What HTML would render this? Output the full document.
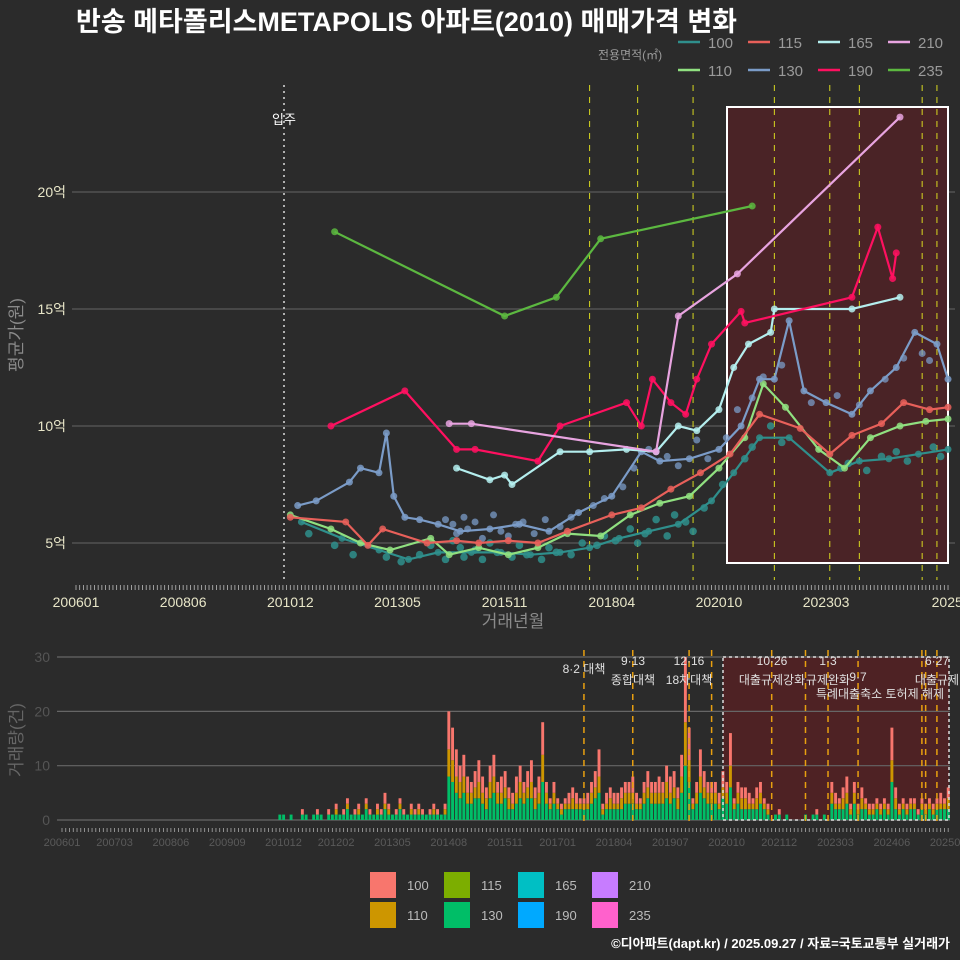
<!DOCTYPE html>
<html><head><meta charset="utf-8">
<style>
body{margin:0;background:#2b2b2b;}
svg{display:block;font-family:"Liberation Sans","Noto Sans CJK KR",sans-serif;}
</style></head>
<body>
<svg id="c" width="960" height="960" viewBox="0 0 960 960">
<rect width="960" height="960" fill="#2b2b2b"/>
<text x="76" y="31" font-size="27" font-weight="bold" fill="#ffffff">반송 메타폴리스METAPOLIS 아파트(2010) 매매가격 변화</text>
<text x="598" y="59" font-size="12" fill="#9a9a9a">전용면적(㎡)</text>
<g id="topLegend"></g>
<g id="main"></g>
<g id="vol"></g>
<g id="botLegend"></g>
<text x="950" y="948" font-size="13" font-weight="bold" fill="#ffffff" text-anchor="end">©디아파트(dapt.kr) / 2025.09.27 / 자료=국토교통부 실거래가</text>
</svg>
<script>
// ---- data (months since 2006-01, values in 억) ----
const sizes = ["100","110","115","130","165","190","210","235"];
const lineColors = {"100":"#2f8f8c","110":"#90e080","115":"#e8605a","130":"#7b9cc8","165":"#b4eeee","190":"#ff1060","210":"#e8a4e0","235":"#5cb840"};
const m100 = [61,72,82,90,98,107,115,123,131,139,147,155,163,172,178,185,193,204,212,220,228,236];
const p100 = [5.9,5.2,4.7,4.3,4.6,4.6,4.6,4.5,4.6,4.8,5.2,5.5,5.8,6.8,8.0,9.5,9.5,8.0,8.5,8.6,8.8,9.0];
const m110 = [58,69,77,85,96,101,109,117,125,133,142,150,158,166,174,181,186,192,201,208,215,223,230,236];
const p110 = [6.2,5.6,5.0,4.7,5.2,4.5,4.8,4.5,4.8,5.4,5.3,6.2,6.7,7.0,8.2,9.5,11.8,10.8,9.0,8.2,9.5,10.0,10.2,10.3];
const m115 = [58,73,79,83,95,103,109,117,125,133,145,153,161,169,177,185,196,204,210,218,224,231,236];
const p115 = [6.1,5.9,4.9,5.6,5.0,5.1,5.0,5.1,5.0,5.5,6.2,6.5,7.3,8.0,8.8,10.5,9.9,8.8,9.6,10.1,11.0,10.7,10.8];
const m130 = [60,65,74,77,82,84,86,89,93,98,104,112,120,128,136,145,153,158,166,174,180,185,189,193,197,203,210,215,222,227,233,236];
const p130 = [6.6,6.8,7.6,8.2,8.0,9.7,7.0,6.1,6.0,5.8,5.5,5.6,5.8,5.5,6.3,7.0,8.9,8.5,8.6,9.0,10.0,12.0,12.0,14.5,11.5,11.0,10.5,11.5,12.5,14.0,13.5,12.0];
const m165 = [103,112,116,118,131,139,149,157,163,168,174,178,182,188,189,210,223];
const p165 = [8.2,7.7,7.9,7.5,8.9,8.9,9.0,8.9,10.0,9.8,10.7,12.5,13.5,14.0,15.0,15.0,15.5];
const m190 = [69,89,103,108,125,131,149,153,156,161,165,168,172,180,181,210,217,221,222];
const p190 = [10.0,11.5,9.0,9.0,8.5,10.0,11.0,10.0,12.0,11.0,10.5,12.0,13.5,14.9,14.4,15.5,18.5,16.3,17.4];
const m210 = [101,107,157,163,179,223];
const p210 = [10.1,10.1,8.9,14.7,16.5,23.2];
const m235 = [70,116,130,142,183];
const p235 = [18.3,14.7,15.5,18.0,19.4];
// individual transactions (scatter)
const sm100 = [63,70,75,84,88,93,96,100,102,104,105,108,110,112,114,118,120,122,126,128,130,134,137,141,143,146,150,152,154,157,160,162,165,167,170,175,181,183,188,191,207,209,214,218,222,225,232,234];
const sp100 = [5.4,4.9,4.5,4.4,4.2,4.5,4.9,4.3,5.1,4.8,4.4,4.7,4.3,5.0,4.6,4.4,4.9,4.5,4.3,4.8,4.6,4.5,5.0,4.9,5.3,5.1,5.6,5.0,5.4,6.0,5.3,6.2,5.9,5.5,6.5,7.5,8.6,9.1,10.0,9.3,8.2,8.4,8.1,8.7,8.9,8.5,9.1,8.7];
const sm130 = [100,102,103,105,106,108,110,113,115,117,119,121,124,127,131,134,140,143,148,151,155,160,163,168,171,176,179,183,186,191,199,206,212,219,224,229,231];
const sp130 = [6.0,5.8,5.4,6.1,5.6,5.9,5.2,6.2,5.5,5.3,5.8,5.9,5.4,6.0,5.7,6.1,6.6,6.9,7.4,8.2,9.0,8.7,8.3,9.4,8.6,9.5,10.7,11.2,12.1,12.6,11.0,11.3,10.9,12.0,12.9,13.1,12.8];
const yTicks = [5,10,15,20];
const xTickLabels = ["200601","200806","201012","201305","201511","201804","202010","202303","202508"];
const xTickMonths = [0,29,58,87,116,145,174,203,232];
const policyMonthsTop = [139,152,167,189,204,212,229,233];
// volume (monthly counts from 2010-11, month index 58)
const volStart = 58;
const vol130 = [1,1,0,1,0,0,1,1,0,1,1,1, 0,1,1,1,1,1,2,1,1,1,1,2, 1,1,1,1,2,1,1,1,2,1,1,1, 1,1,1,1,1,1,1,1,1,
8,7,5,4,5,3,3,4,4,3,2,4,5,3,3,4,2,2,3,4,3,4,4,2,3,
7,3,2,3,2,1,2,2,2,2,2,2,2,3,4,5,1,2,2,2,2,2,3,3,3,2,2,3,4,3,3,3,3,4,
3,4,2,5,10,7,2,3,5,4,3,3,3,2,4,3,6,2,3,2,2,2,2,2,3,2,1,
0,1,1,0,1,0,0,0,0,1,0,1,1,0,1,0,
3,2,2,2,3,1,3,1,2,2,1,1,2,1,2,1,7,2,1,2,1,2,2,1,2,1,2,1,2,2,2,2];
const vol110 = [0,0,0,0,0,0,0,0,0,0,0,0, 0,0,0,1,0,0,1,0,0,1,0,1, 0,0,1,0,1,1,0,0,1,0,0,1, 0,1,0,0,0,1,0,0,1,
5,4,3,3,3,2,2,2,3,2,2,3,3,2,2,2,2,1,2,3,2,2,3,2,2,
5,2,1,2,1,1,1,1,2,1,1,1,1,2,2,3,1,1,2,1,1,2,2,2,2,1,1,2,2,2,2,2,2,3,
2,2,2,3,8,4,1,2,3,2,2,2,2,1,2,2,4,1,2,2,2,1,1,2,2,1,1,
0,0,0,0,0,0,0,0,0,0,0,0,0,0,0,0,
2,1,1,2,2,1,2,1,2,1,1,1,1,1,1,1,4,2,1,1,1,1,1,0,1,1,1,1,1,1,1,2];
const vol100 = [0,0,0,0,0,0,1,0,0,0,1,0, 0,1,0,1,0,1,1,0,1,1,0,1, 1,0,1,1,2,1,0,1,1,1,0,1, 1,1,1,0,1,1,1,0,1,
7,6,5,3,4,3,2,3,4,3,2,3,4,2,3,3,2,2,3,3,2,3,4,2,3,
6,2,1,2,1,1,1,2,2,2,1,1,2,2,3,5,1,2,2,2,2,2,2,2,3,2,1,2,3,2,2,3,2,3,
3,3,2,4,12,6,1,2,5,3,2,2,2,2,3,2,6,1,2,2,2,2,1,2,2,1,1,
0,0,1,0,0,0,0,0,0,0,0,0,1,0,0,0,
2,2,1,2,3,1,2,1,2,1,1,1,1,1,1,1,6,2,1,1,1,1,1,1,1,1,1,1,1,2,1,2];
const volTicks = [0,10,20,30];
const volXLabels = ["200601","200703","200806","200909","201012","201202","201305","201408","201511","201701","201804","201907","202010","202112","202303","202406","202509"];
const volXMonths = [0,14,29,44,59,73,88,103,118,132,147,162,177,191,206,221,236];
const policyMonthsBot = [139,152,167,173,189,198,204,212,229,230,233];
const policyText = [["8·2 대책","",584,673,0],["9·13","종합대책",633,665,684],["12·16","18차대책",689,665,684],["10·26","대출규제강화",772,665,684],["1·3","규제완화",828,665,684],["9·7","",858,681,0],["특례대출축소 토허제 해제","",880,698,0],["6·27","대출규제",937,665,684]];
const legendSizes = ["100","110","115","130","165","190","210","235"];
const barColors = {"100":"#F8766D","110":"#CD9600","115":"#7CAE00","130":"#00BE67","165":"#00BFC4","190":"#00A9FF","210":"#C77CFF","235":"#FF61CC"};

// ---- scales ----
const NS="http://www.w3.org/2000/svg";
const xT = m => 76 + 3.695*m;
const yT = v => 660 - 23.4*v;
const xB = m => 62 + 3.755*m;
const yB = v => 820 - 5.433*v;
function mk(tag, attrs, parent, txt){const e=document.createElementNS(NS,tag);for(const k in attrs)e.setAttribute(k,attrs[k]);if(txt!==undefined)e.textContent=txt;parent.appendChild(e);return e;}

const main=document.getElementById('main');
for(const v of yTicks){
  const g=mk('line',{x1:72,x2:955,y1:yT(v),y2:yT(v),stroke:'#5a5a5a','stroke-width':1.2},main);
  
  
  const t=mk('text',{x:66,y:yT(v)+5,'font-size':14,fill:'#e8e6c8','text-anchor':'end'},main,v+'억');
  
  
}
const box=mk('rect',{x:727,y:107,width:221,height:456,fill:'#4a2326',stroke:'#ffffff','stroke-width':2},main);


for(const m of policyMonthsTop){
  const l=mk('line',{x1:xT(m),x2:xT(m),y1:85,y2:580,stroke:'#d8d820','stroke-width':1,'stroke-dasharray':'6,6'},main);
  
  
}
const ap=mk('line',{x1:284,x2:284,y1:85,y2:580,stroke:'#dddddd','stroke-width':1.5,'stroke-dasharray':'2,4'},main);


const apt=mk('text',{x:284,y:124,'font-size':13,fill:'#ffffff','text-anchor':'middle'},main,'입주');


// scatter
sm130.forEach((m,i)=>{
  const c=mk('circle',{cx:xT(m),cy:yT(sp130[i]),r:3.5,fill:lineColors["130"],opacity:0.75},main);
  
  
});
sm100.forEach((m,i)=>{
  const c=mk('circle',{cx:xT(m),cy:yT(sp100[i]),r:3.8,fill:lineColors["100"],opacity:0.85},main);
  
  
});
const series={"100":[m100,p100],"110":[m110,p110],"115":[m115,p115],"130":[m130,p130],"165":[m165,p165],"190":[m190,p190],"210":[m210,p210],"235":[m235,p235]};
for(const s of sizes){
  const [ms,ps]=series[s];
  const pts=ms.map((m,i)=>xT(m).toFixed(1)+','+yT(ps[i]).toFixed(1)).join(' ');
  const pl=mk('polyline',{points:pts,fill:'none',stroke:lineColors[s],'stroke-width':2.2},main);
  
  
  ms.forEach((m,i)=>{
    const c=mk('circle',{cx:xT(m),cy:yT(ps[i]),r:3.5,fill:lineColors[s],opacity:0.85},main);
    
    
  });
}
for(let m=0;m<=236;m++){
  const tk=mk('line',{x1:xT(m),x2:xT(m),y1:585,y2:590,stroke:'#bbbbbb','stroke-width':0.8},main);
  
  
}
xTickLabels.forEach((lb,i)=>{
  const x = i===xTickLabels.length-1 ? 955 : xT(xTickMonths[i]);
  const t=mk('text',{x:x,y:607,'font-size':14,fill:'#e8e6c8','text-anchor':'middle'},main,lb);
  
  
});
const xt=mk('text',{x:513,y:627,'font-size':17,fill:'#8a8a8a','text-anchor':'middle'},main,'거래년월');


const yt=mk('text',{x:0,y:0,'font-size':17,fill:'#8a8a8a','text-anchor':'middle',transform:'translate(22,335) rotate(-90)'},main,'평균가(원)');



const tl=document.getElementById('topLegend');
sizes.forEach((s,i)=>{
  const col=Math.floor(i/2), row=i%2;
  const x=678+col*70, y=42+row*28;
  const l=mk('line',{x1:x,x2:x+22,y1:y,y2:y,stroke:lineColors[s],'stroke-width':2.5},tl);
  
  
  const t=mk('text',{x:x+30,y:y+6,'font-size':15,fill:'#9a9a9a'},tl,s);
  
  
});

const vol=document.getElementById('vol');
const vb=mk('rect',{x:723,y:657,width:226,height:163,fill:'#4e2224'},vol);


for(const v of volTicks){
  const g=mk('line',{x1:57,x2:950,y1:yB(v),y2:yB(v),stroke:'#666666','stroke-width':1.2},vol);
  
  
  const t=mk('text',{x:50,y:yB(v)+5,'font-size':14,fill:'#555555','text-anchor':'end'},vol,String(v));
  
  
}
for(let i=0;i<vol130.length;i++){
  const m=volStart+i, x=xB(m)-1.4;
  let base=0;
  const parts=[[vol130[i],barColors["130"]],[vol110[i],barColors["110"]],[vol100[i],barColors["100"]]];
  for(const [v,c] of parts){
    if(v<=0)continue;
    const r=mk('rect',{x:x,y:yB(base+v),width:2.9,height:yB(base)-yB(base+v),fill:c},vol);
    
    
    base+=v;
  }
}
const vbo=mk('rect',{x:723,y:657,width:226,height:163,fill:'none',stroke:'#dddddd','stroke-width':1.5,'stroke-dasharray':'3,3'},vol);


for(const m of policyMonthsBot){
  const l=mk('line',{x1:xB(m),x2:xB(m),y1:650,y2:825,stroke:'#e8a010','stroke-width':1.5,'stroke-dasharray':'6,5'},vol);
  
  
}
for(const [a,b,x,y1,y2] of policyText){
  const t=mk('text',{x:x,y:y1,'font-size':12,fill:'#e0e0e0','text-anchor':'middle'},vol,a);
  
  
  if(b){const t2=mk('text',{x:x,y:y2,'font-size':12,fill:'#e0e0e0','text-anchor':'middle'},vol,b);
  
  }
}
for(let m=0;m<=236;m++){
  const tk=mk('line',{x1:xB(m),x2:xB(m),y1:828,y2:832,stroke:'#aaaaaa','stroke-width':0.8},vol);
  
  
}
volXLabels.forEach((lb,i)=>{
  const t=mk('text',{x:xB(volXMonths[i]),y:846,'font-size':11,fill:'#5a5a5a','text-anchor':'middle'},vol,lb);
  
  
});
const vyt=mk('text',{x:0,y:0,'font-size':17,fill:'#666666','text-anchor':'middle',transform:'translate(22,740) rotate(-90)'},vol,'거래량(건)');



const bl=document.getElementById('botLegend');
legendSizes.forEach((s,i)=>{
  const col=Math.floor(i/2), row=i%2;
  const x=370+col*74, y=872+row*30;
  const r=mk('rect',{x:x,y:y,width:26,height:26,fill:barColors[s]},bl);
  
  
  const t=mk('text',{x:x+37,y:y+18,'font-size':13,fill:'#bbbbbb'},bl,s);
  
  
});
</script>
</body></html>
